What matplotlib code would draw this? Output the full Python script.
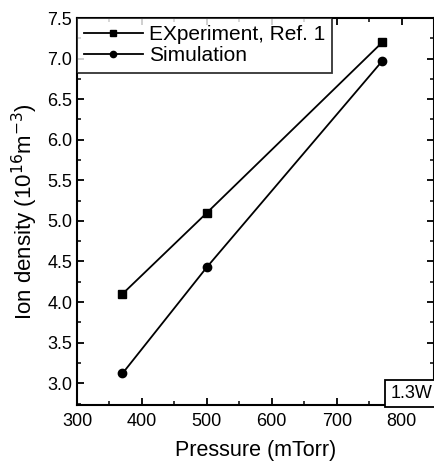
import matplotlib
matplotlib.use("Agg")
import matplotlib.pyplot as plt
from matplotlib.ticker import MultipleLocator

plt.rcParams['font.family'] = ['Liberation Sans', 'DejaVu Sans']

pressure = [370, 500, 770]
experiment = [4.10, 5.10, 7.20]
simulation = [3.12, 4.43, 6.97]

fig = plt.figure(figsize=(4.35, 4.63), dpi=100)
ax = fig.add_axes([0.177, 0.125, 0.821, 0.836])

ax.plot(pressure, experiment, color='black', lw=1.3, marker='s', ms=6,
        label='EXperiment, Ref. 1')
ax.plot(pressure, simulation, color='black', lw=1.3, marker='o', ms=6,
        label='Simulation')

ax.set_xlim(300, 850)
ax.set_ylim(2.73, 7.5)
ax.xaxis.set_major_locator(MultipleLocator(100))
ax.xaxis.set_minor_locator(MultipleLocator(50))
ax.yaxis.set_major_locator(MultipleLocator(0.5))
ax.yaxis.set_minor_locator(MultipleLocator(0.25))
ax.tick_params(which='both', direction='in', top=True, right=True, labelsize=13)
ax.tick_params(axis='x', which='major', pad=6)
ax.tick_params(which='major', length=5, width=1.3)
ax.tick_params(which='minor', length=3, width=1.1)
for s in ax.spines.values():
    s.set_linewidth(1.5)

ax.set_xlabel('Pressure (mTorr)', fontsize=15.5, labelpad=7)
ax.set_ylabel('Ion density (10$^{16}$m$^{-3}$)', fontsize=16, labelpad=5)

leg = ax.legend(loc='upper left', fontsize=15, frameon=True, fancybox=False,
                edgecolor='black', handlelength=2.8, borderaxespad=0,
                borderpad=0.35, labelspacing=0.1, handletextpad=0.3,
                markerscale=0.75)
leg.get_frame().set_linewidth(1.3)

ax.text(0.995, 0.008, '1.3W', transform=ax.transAxes, ha='right', va='bottom',
        fontsize=13, bbox=dict(boxstyle='square,pad=0.3', fc='white', ec='black', lw=1.3))

fig.savefig('out.png', dpi=100)
